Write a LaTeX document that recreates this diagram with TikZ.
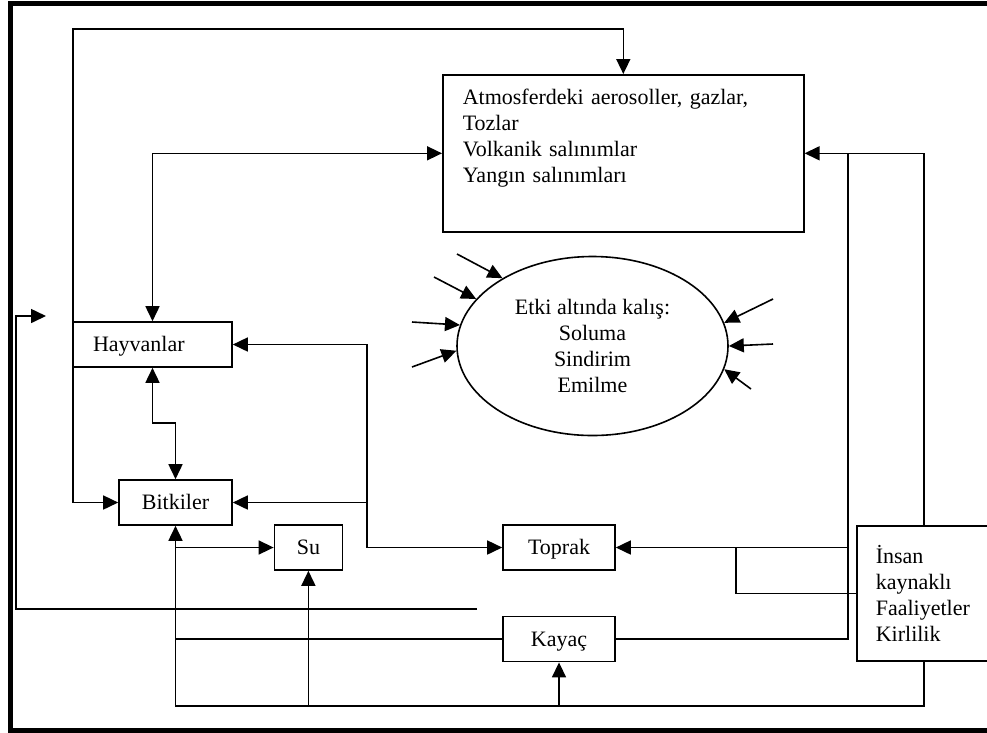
\documentclass[tikz,border=0pt]{standalone}
\usepackage{fontspec}
\setmainfont{Liberation Serif}
\usetikzlibrary{positioning,shapes.geometric,arrows.meta}

\begin{document}
\begin{tikzpicture}[
        x=1pt, y=-1pt,
        line width=1.6pt,
        >={Triangle[length=15pt,width=14pt]},
        font=\fontsize{22}{26}\selectfont,
        box/.style={draw, rectangle, inner sep=0pt, minimum height=45pt, text height=14pt, text depth=0pt},
        tallbox/.style={draw, rectangle, align=left, inner ysep=0pt},
        blob/.style={draw, ellipse, align=center, minimum width=271pt, minimum height=179pt, inner sep=0pt}
    ]

    \useasboundingbox (0,0) rectangle (987,732);
    \clip (0,0) rectangle (987,732);

    % Frame
    \draw[line width=5pt] (10.5,3) rectangle (1000,730);

    % Nodes - atmosphere and exposure
    \node[tallbox, anchor=north west, text width=321pt, inner xsep=20pt, text height=30pt, text depth=127pt] (atmos) at (442,74) {Atmosferdeki aerosoller, gazlar,\\ Tozlar\\ Volkanik salınımlar\\ Yangın salınımları};
    \node[blob] (ell) at (592.5,346) {Etki altında kalış:\\ Soluma\\ Sindirim\\ Emilme};

    % Nodes - living things
    \node[box, align=left, text width=119pt, inner xsep=20pt] (hay) at (152.5,344.5) {Hayvanlar};
    \node[box, minimum width=113pt] (bit) at (175.5,502.5) {Bitkiler};

    % Nodes - soil, water, rock
    \node[box, minimum width=112pt] (toprak) at (559,547.5) {Toprak};
    \node[box, minimum width=68pt, left=159pt of toprak] (su) {Su};
    \node[box, minimum width=112pt, below=45pt of toprak] (kayac) {Kayaç};

    % Human activity
    \node[tallbox, anchor=north west, text width=96pt, inner xsep=19pt, minimum height=135pt] (insan) at (856,525) {İnsan\\ kaynaklı\\ Faaliyetler\\ Kirlilik};

    % Helper points
    \coordinate (tl) at (73,29);
    \coordinate (hb) at (152.5,423);
    \coordinate (m1) at (367,440);
    \coordinate (bl) at (175.5,706);
    \coordinate (r1) at (848,400);
    \coordinate (r2) at (736,570);
    \coordinate (lb) at (477,609);
    \coordinate (lc) at (16,609);
    \coordinate (lt) at (46,316);

    % Arrows
    \draw[<->] (bit) -| (tl) -| (atmos);
    \draw[<->] (atmos) -| (hay);
    \draw[<->] (hay) -- (hb) -| (bit);
    \draw[<->] (hay) -- (hay -| m1) |- (toprak);
    \draw[->] (bit -| m1) -- (bit);
    \draw[->] (bit |- su) -- (su);
    \draw (bit |- kayac) -- (kayac);
    \draw[->] (insan) |- (bl) -- (bit);
    \draw[->] (su |- bl) -- (su);
    \draw[->] (kayac |- bl) -- (kayac);
    \draw[->] (kayac) -| (r1 |- atmos) -- (atmos);
    \draw (insan) |- (r1 |- atmos);
    \draw[->] (r1 |- toprak) -- (toprak);
    \draw (r2 |- toprak) |- (insan);
    \draw[->] (lb) -- (lc) |- (lt);

    % Exposure arrows
    \foreach \tail/\ang [count=\i] in {{(457,254)}/143, {(434,277)}/158, {(412,322)}/171, {(412,367)}/182, {(773,299)}/10, {(773,344)}/0, {(751,389)}/-10}
        \draw[->] \tail coordinate (in\i) -- (ell.\ang);

\end{tikzpicture}
\end{document}
